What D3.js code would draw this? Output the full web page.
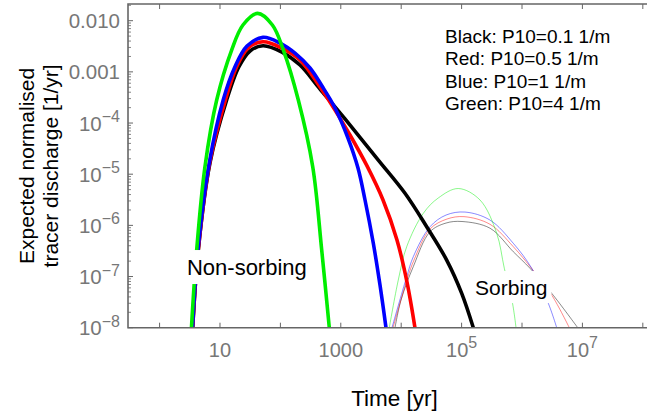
<!DOCTYPE html>
<html>
<head>
<meta charset="utf-8">
<script src="https://cdn.jsdelivr.net/npm/d3@7"></script>
<style>
body { margin: 0; background: #fff; }
text { font-family: "Liberation Sans", Arial, sans-serif; }
</style>
</head>
<body>
<div id="content"></div>
<script>
// expected normalised discharge [1/yr] vs time [yr]
// non-sorbing tracer
var blackNS = [[3.53,1e-8],[4.37,3.3e-7],[6.83,1.66e-5],[12.9,2.82e-4],[20.6,1.26e-3],[31.4,2.56e-3],[51.5,3.24e-3],
    [106,2.44e-3],[211,1.36e-3],[453,4.62e-4],[1175,1.2e-4],[4178,1.89e-5],[11560,4.24e-6],[26420,9.4e-7],
    [56600,2.1e-7],[100400,4.7e-8],[156300,1e-8]]
var redNS = [[3.53,1e-8],[4.37,3.3e-7],[6.75,1.66e-5],[12.3,2.82e-4],[18.9,1.26e-3],[29.1,2.92e-3],[51.5,3.88e-3],
    [106,2.92e-3],[211,1.71e-3],[453,5.06e-4],[802,1.79e-4],[1419,5.83e-5],[2716,1.45e-5],[5000,3.13e-6],
    [8510,5.18e-7],[12470,7.8e-8],[16900,1e-8]]
var blueNS = [[3.51,1e-8],[4.32,3.3e-7],[6.65,1.66e-5],[11.3,2.82e-4],[17.7,1.26e-3],[28.0,3.2e-3],[51.5,4.73e-3],
    [98.5,3.66e-3],[174.5,2.33e-3],[309,1.19e-3],[489,5.28e-4],[802,1.97e-4],[1315,5.09e-5],[1926,1.32e-5],
    [2518,3.13e-6],[3454,4.46e-7],[4457,6.8e-8],[5600,1e-8]]
var greenNS = [[3.37,1e-8],[4.11,3.3e-7],[5.64,1.4e-5],[8.82,2.82e-4],[15.6,2.67e-3],[24.0,8.24e-3],[42.1,0.0139],
    [73.7,8.24e-3],[112,2.67e-3],[198,2.82e-4],[343,1.4e-5],[483,3.3e-7],[645,1e-8]]
// sorbing tracer
var blackS = [[7890,1e-8],[9930,3.47e-8],[15850,1.56e-7],[29980,7.5e-7],[55200,1.11e-6],[101600,1.19e-6],
    [295100,8.8e-7],[717800,3.05e-7],[1.356e6,1.45e-7],[3.102e6,4.7e-8],[8.36e6,1e-8]]
var redS = [[7320,1e-8],[12710,9.35e-8],[16290,2.1e-7],[29980,8.5e-7],[57300,1.33e-6],[109600,1.48e-6],
    [295100,1.05e-6],[717800,3.83e-7],[1.482e6,1.38e-7],[3.102e6,4.35e-8],[6.07e6,1e-8]]
var blueS = [[7040,1e-8],[12330,9.9e-8],[15850,2.44e-7],[29980,9.4e-7],[55200,1.59e-6],[113800,1.82e-6],
    [295100,1.27e-6],[717800,4.46e-7],[1.448e6,1.45e-7],[2.725e6,3.0e-8],[3.756e6,1e-8]]
var greenS = [[6350,1e-8],[8950,8.55e-8],[12330,3.83e-7],[23220,1.72e-6],[41110,3.43e-6],[88100,5.25e-6],
    [201800,3.13e-6],[381100,7.0e-7],[509300,1.45e-7],[696600,3.0e-8],[796200,1e-8]]

var xTicks = [1, 10, 100, 1000, 1e4, 1e5, 1e6, 1e7, 1e8]
var xLabels = [[10, '10', ''], [1000, '1000', ''], [1e5, '10', '5'], [1e7, '10', '7']]
var yLabels = [[0.01, '0.010', ''], [0.001, '0.001', ''], [1e-4, '10', '\u22124'], [1e-5, '10', '\u22125'],
    [1e-6, '10', '\u22126'], [1e-7, '10', '\u22127'], [1e-8, '10', '\u22128']]
var legendLines = ['Black: P10=0.1 1/m', 'Red: P10=0.5 1/m', 'Blue: P10=1 1/m', 'Green: P10=4 1/m']
var notes = [['Non-sorbing', 2.84, 1.07e-7, 22], ['Sorbing', 1.67e5, 4.35e-8, 21]]

var width = 647, height = 412
var pLeft = 128, pRight = 661, pTop = 4, pBottom = 327.7

var svg = d3.select('#content')
    .append('svg')
    .attr('width', width)
    .attr('height', height)

var x = d3.scaleLog().domain([0.3, 2e8]).range([pLeft, pRight])
var y = d3.scaleLog().domain([1e-8, 0.0212]).range([pBottom, pTop])

svg.append('defs').append('clipPath').attr('id', 'plot')
    .append('rect')
    .attr('x', pLeft).attr('y', pTop)
    .attr('width', pRight - pLeft).attr('height', pBottom - pTop)

var line = d3.line()
    .x(d => x(d[0]))
    .y(d => y(d[1]))
    .curve(d3.curveCatmullRom.alpha(0.5))

var curves = svg.append('g').attr('clip-path', 'url(#plot)')

// thin sorbing curves
var thin = [[blackS, '#000'], [redS, '#f00'], [blueS, '#00f'], [greenS, '#0e0']]
curves.selectAll('path.sorb')
    .data(thin)
    .join('path')
    .attr('class', 'sorb')
    .attr('d', d => line(d[0]))
    .attr('fill', 'none')
    .attr('stroke', d => d[1])
    .attr('stroke-opacity', 0.55)
    .attr('stroke-width', 0.85)

// thick non-sorbing curves
var thick = [[blackNS, '#000'], [redNS, '#f00'], [blueNS, '#00f'], [greenNS, '#00ee00']]
curves.selectAll('path.nonsorb')
    .data(thick)
    .join('path')
    .attr('class', 'nonsorb')
    .attr('d', d => line(d[0]))
    .attr('fill', 'none')
    .attr('stroke', d => d[1])
    .attr('stroke-width', 3.6)
    .attr('stroke-linejoin', 'round')

// frame (right side falls outside the picture)
svg.append('path')
    .attr('d', `M${pRight},${pTop}H${pLeft}V${pBottom}H${pRight}`)
    .attr('fill', 'none')
    .attr('stroke', '#666')
    .attr('stroke-width', 1.6)

var tickColor = '#666'
// x ticks, bottom and top
svg.append('g').selectAll('line')
    .data(xTicks)
    .join('line')
    .attr('x1', d => x(d)).attr('x2', d => x(d))
    .attr('y1', pBottom).attr('y2', pBottom - 5)
    .attr('stroke', tickColor)
svg.append('g').selectAll('line')
    .data(xTicks)
    .join('line')
    .attr('x1', d => x(d)).attr('x2', d => x(d))
    .attr('y1', pTop).attr('y2', pTop + 5)
    .attr('stroke', tickColor)

// y ticks: decades and 2..9 minors
var yMinor = []
for (var e = -8; e <= -2; e++) {
    for (var k = 2; k <= 9; k++) {
        var v = k * Math.pow(10, e)
        if (v < y.domain()[1]) yMinor.push(v)
    }
}
svg.append('g').selectAll('line')
    .data(yLabels.map(d => d[0]))
    .join('line')
    .attr('x1', pLeft).attr('x2', pLeft + 5)
    .attr('y1', d => y(d)).attr('y2', d => y(d))
    .attr('stroke', tickColor)
svg.append('g').selectAll('line')
    .data(yMinor)
    .join('line')
    .attr('x1', pLeft).attr('x2', pLeft + 3)
    .attr('y1', d => y(d)).attr('y2', d => y(d))
    .attr('stroke', tickColor)
    .attr('stroke-width', 0.8)

var labelColor = '#777'
var yl = svg.append('g').selectAll('text')
    .data(yLabels)
    .join('text')
    .attr('x', pLeft - 8)
    .attr('y', d => y(d[0]) + 7.5)
    .attr('text-anchor', 'end')
    .attr('font-size', 20.5)
    .attr('fill', labelColor)
    .text(d => d[1])
yl.filter(d => d[2]).append('tspan')
    .attr('dy', -8.5)
    .attr('font-size', 16)
    .text(d => d[2])

var xl = svg.append('g').selectAll('text')
    .data(xLabels)
    .join('text')
    .attr('x', d => x(d[0]))
    .attr('y', 356.5)
    .attr('text-anchor', 'middle')
    .attr('font-size', 20)
    .attr('fill', labelColor)
    .text(d => d[1])
xl.filter(d => d[2]).append('tspan')
    .attr('dy', -9)
    .attr('font-size', 16)
    .text(d => d[2])

// axis titles
svg.append('text')
    .attr('x', (pLeft + pRight) / 2)
    .attr('y', 406)
    .attr('text-anchor', 'middle')
    .attr('font-size', 22.5)
    .text('Time [yr]')

var yt = svg.append('text')
    .attr('transform', `translate(0,${(pTop + pBottom) / 2}) rotate(-90)`)
    .attr('text-anchor', 'middle')
    .attr('font-size', 21)
yt.append('tspan').attr('x', 0).attr('y', 33.5).text('Expected normalised')
yt.append('tspan').attr('x', 0).attr('y', 57.5).text('tracer discharge [1/yr]')

// legend text
svg.append('g').selectAll('text')
    .data(legendLines)
    .join('text')
    .attr('x', 445)
    .attr('y', (d, i) => 42.7 + i * 22.4)
    .attr('font-size', 19)
    .text(d => d)

// curve labels on white boxes
notes.forEach(function (n) {
    var g = svg.append('g')
    var t = g.append('text')
        .attr('x', x(n[1]))
        .attr('y', y(n[2]))
        .attr('font-size', n[3])
        .text(n[0])
    var b = t.node().getBBox()
    g.insert('rect', 'text')
        .attr('x', b.x - 4)
        .attr('y', b.y - 5)
        .attr('width', b.width + 8)
        .attr('height', b.height + 9)
        .attr('fill', '#fff')
})
</script>
</body>
</html>
